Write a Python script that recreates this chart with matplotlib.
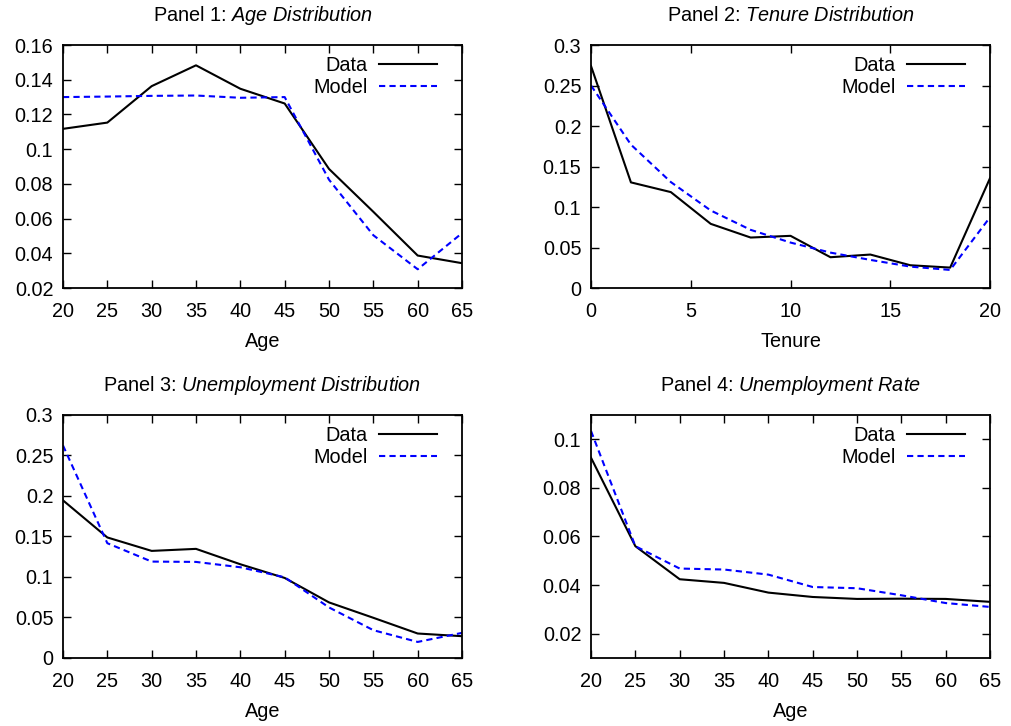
import numpy as np
import matplotlib
matplotlib.use("Agg")
import matplotlib.pyplot as plt

plt.rcParams['font.family'] = ['Liberation Sans', 'DejaVu Sans']
plt.rcParams['mathtext.fontset'] = 'custom'
plt.rcParams['mathtext.rm'] = 'Liberation Sans'
plt.rcParams['mathtext.it'] = 'Liberation Sans:italic'

ages = [20, 25, 30, 35, 40, 45, 50, 55, 60, 65]
tenure = [0, 2, 4, 6, 8, 10, 12, 14, 16, 18, 20]

age_data = [0.1117, 0.1153, 0.1363, 0.1483, 0.1348, 0.1263, 0.0886, 0.0639, 0.0387, 0.0343]
age_model = [0.1300, 0.1303, 0.1307, 0.1309, 0.1296, 0.1300, 0.0824, 0.0504, 0.0308, 0.0516]

ten_data = [0.274, 0.1304, 0.1184, 0.0792, 0.0623, 0.0644, 0.038, 0.0413, 0.0281, 0.0252, 0.1358]
ten_model = [0.250, 0.177, 0.1308, 0.0957, 0.0718, 0.0561, 0.0437, 0.0347, 0.0264, 0.0223, 0.0875]

unemp_data = [0.1946, 0.1488, 0.1322, 0.1347, 0.1157, 0.0988, 0.0686, 0.0496, 0.0302, 0.0269]
unemp_model = [0.2624, 0.1417, 0.119, 0.1186, 0.112, 0.0996, 0.0624, 0.0343, 0.0198, 0.031]

rate_data = [0.0924, 0.056, 0.0424, 0.0409, 0.0369, 0.0351, 0.0343, 0.0344, 0.0343, 0.0331]
rate_model = [0.1034, 0.056, 0.0468, 0.0464, 0.0443, 0.0392, 0.0387, 0.0358, 0.0326, 0.031]

panels = [
    ("Panel 1: ", "Age\\ Distribution", ages, age_data, age_model, "Age",
     (20, 65), np.arange(20, 66, 5), (0.02, 0.16), np.arange(0.02, 0.161, 0.02)),
    ("Panel 2: ", "Tenure\\ Distribution", tenure, ten_data, ten_model, "Tenure",
     (0, 20), np.arange(0, 21, 5), (0, 0.3), np.arange(0, 0.31, 0.05)),
    ("Panel 3: ", "Unemployment\\ Distribution", ages, unemp_data, unemp_model, "Age",
     (20, 65), np.arange(20, 66, 5), (0, 0.3), np.arange(0, 0.31, 0.05)),
    ("Panel 4: ", "Unemployment\\ Rate", ages, rate_data, rate_model, "Age",
     (20, 65), np.arange(20, 66, 5), (0.01, 0.11), np.arange(0.02, 0.101, 0.02)),
]

def fmt(v):
    return "%g" % round(v, 4)

fs = 14.3
fig = plt.figure(figsize=(10.11, 7.26), dpi=100)
lefts = [0.0623, 0.5846, 0.0623, 0.5846]
bottoms = [0.6033, 0.6033, 0.0937, 0.0937]

for i, (pre, ital, x, d, m, xl, xlim, xt, ylim, yt) in enumerate(panels):
    ax = fig.add_axes([lefts[i], bottoms[i], 0.3947, 0.3347])
    ax.plot(x, d, color='black', lw=1.5, label='Data')
    ax.plot(x, m, color='blue', lw=1.5, dashes=(3, 2), label='Model')
    ax.set_xlim(*xlim)
    ax.set_ylim(*ylim)
    ax.set_xticks(xt)
    ax.set_yticks(yt)
    ax.set_yticklabels([fmt(v) for v in yt])
    ax.tick_params(direction='in', top=True, right=True, length=6, width=1,
                   labelsize=fs)
    ax.tick_params(axis='x', pad=10)
    ax.tick_params(axis='y', pad=7)
    for sp in ax.spines.values():
        sp.set_linewidth(1.3)
    ax.set_xlabel(xl, fontsize=fs, labelpad=8)
    ax.set_title(pre + "$\\it{" + ital + "}$", fontsize=fs, pad=17)
    ax.legend(loc='upper right', bbox_to_anchor=(0.937, 0.953), frameon=False,
              markerfirst=False, fontsize=fs, handlelength=2.9, labelspacing=0.15,
              borderaxespad=0, borderpad=0, handletextpad=0.6)

fig.savefig("out.png", dpi=100)
